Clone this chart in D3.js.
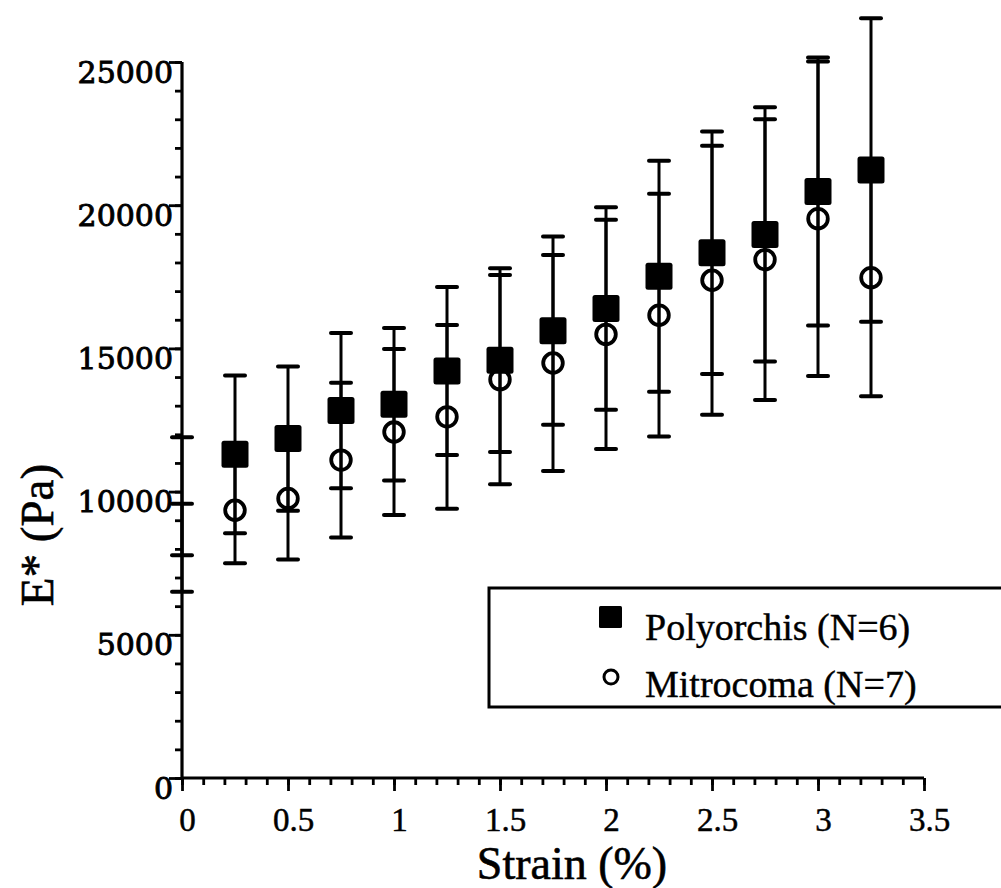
<!DOCTYPE html>
<html>
<head>
<meta charset="utf-8">
<script src="https://cdn.jsdelivr.net/npm/d3@7"></script>
<style>
  html, body { margin: 0; padding: 0; background: #fff; }
  svg { display: block; }
</style>
</head>
<body>
<svg id="chart" width="1001" height="888"></svg>
<script>
// Strain steps (%); the zero-strain entry is shown as error bars only
const strain = [0, 0.25, 0.5, 0.75, 1, 1.25, 1.5, 1.75, 2, 2.25, 2.5, 2.75, 3, 3.25];

// Polyorchis (N=6): mean E* and error (Pa)
const polyMean = [9840, 11300, 11850, 12830, 13050, 14210, 14590, 15620, 16390, 17520, 18340, 18980, 20480, 21230];
const polyErr  = [2060, 2750, 2520, 2710, 2660, 2930, 3210, 3290, 3535, 4030, 4230, 4440, 4680, 5300];

// Mitrocoma (N=7): mean E* and error (Pa)
const mitroMean = [8040, 9350, 9760, 11100, 12080, 12610, 13910, 14490, 15490, 16160, 17380, 18100, 19530, 17470];
const mitroErr  = [1540, 1850, 2130, 2700, 2900, 3210, 3650, 3770, 4000, 4240, 4700, 4900, 5490, 4140];

// Axis ticks
const xTicks = [0, 0.5, 1, 1.5, 2, 2.5, 3, 3.5];
const xTickLabels = ["0", "0.5", "1", "1.5", "2", "2.5", "3", "3.5"];
const yTicks = [0, 5000, 10000, 15000, 20000, 25000];
const yTickLabels = ["0", "5000", "10000", "15000", "20000", "25000"];

const seriesNames = ["Polyorchis (N=6)", "Mitrocoma (N=7)"];

const svg = d3.select("#chart");
const x = d3.scaleLinear().domain([0, 3.5]).range([182, 924]);
const y = d3.scaleLinear().domain([0, 25000]).range([778, 62]);

const ink = "#000";
const serif = "'Liberation Serif', 'Times New Roman', serif";

// ---- axes ----
const xMinor = d3.axisBottom(x).tickValues(d3.range(0, 3.5001, 0.1)).tickSize(7).tickFormat("");
const xMajor = d3.axisBottom(x).tickValues(xTicks).tickSize(13)
  .tickFormat((d, i) => xTickLabels[i]).tickPadding(14);
const yMinor = d3.axisLeft(y).tickValues(d3.range(0, 25001, 1000)).tickSize(7).tickFormat("");
const yMajor = d3.axisLeft(y).tickValues(yTicks).tickSize(13)
  .tickFormat((d, i) => yTickLabels[i]).tickPadding(0);

function styleAxis(g) {
  g.select(".domain").remove();
  g.selectAll(".tick line").attr("stroke", ink).attr("stroke-width", 2.8);
}

const gx = svg.append("g").attr("transform", `translate(0,${y(0)})`);
gx.append("g").call(xMinor).call(styleAxis);
const gxM = gx.append("g").call(xMajor).call(styleAxis);
gxM.selectAll(".tick text")
  .attr("font-family", serif)
  .attr("font-size", 33).attr("fill", ink)
  .attr("stroke", ink).attr("stroke-width", 0.5)
  .attr("dy", null).attr("y", 53).attr("dx", 5);

const gy = svg.append("g").attr("transform", `translate(${x(0)},0)`);
gy.append("g").call(yMinor).call(styleAxis);
const gyM = gy.append("g").call(yMajor).call(styleAxis);
gyM.selectAll(".tick text")
  .attr("font-family", "'DejaVu Serif', serif")
  .attr("font-size", 30).attr("fill", ink)
  .attr("stroke", ink).attr("stroke-width", 0.9)
  .attr("x", -9).attr("dy", null).attr("y", 20);

// axis lines
svg.append("line").attr("x1", x(0)).attr("x2", x(3.5)).attr("y1", y(0)).attr("y2", y(0))
  .attr("stroke", ink).attr("stroke-width", 3.2);
svg.append("line").attr("x1", x(0)).attr("x2", x(0)).attr("y1", y(0)).attr("y2", y(25000))
  .attr("stroke", ink).attr("stroke-width", 3.2);

// axis titles
svg.append("text")
  .attr("x", 572).attr("y", 879)
  .attr("text-anchor", "middle")
  .attr("font-family", serif)
  .attr("font-size", 46).attr("fill", ink)
  .attr("stroke", ink).attr("stroke-width", 0.6)
  .text("Strain (%)");

svg.append("text")
  .attr("transform", "translate(53,535) rotate(-90)")
  .attr("text-anchor", "middle")
  .attr("font-family", serif)
  .attr("font-size", 47).attr("fill", ink)
  .attr("stroke", ink).attr("stroke-width", 0.6)
  .text("E* (Pa)");

// ---- error bars ----
const capHalf = 10;
function errorBars(means, errs) {
  const g = svg.append("g");
  strain.forEach((s, i) => {
    const cx = x(s), top = y(means[i] + errs[i]), bot = y(means[i] - errs[i]);
    g.append("line").attr("x1", cx).attr("x2", cx).attr("y1", top).attr("y2", bot)
      .attr("stroke", ink).attr("stroke-width", 3);
    [top, bot].forEach(cy => {
      g.append("line").attr("x1", cx - capHalf).attr("x2", cx + capHalf)
        .attr("y1", cy).attr("y2", cy)
        .attr("stroke", ink).attr("stroke-width", 4).attr("stroke-linecap", "round");
    });
  });
}
errorBars(polyMean, polyErr);
errorBars(mitroMean, mitroErr);

// ---- markers (strain > 0) ----
const idx = strain.map((s, i) => i).filter(i => strain[i] > 0);
const sq = 27;
svg.append("g").selectAll("rect").data(idx).join("rect")
  .attr("x", i => x(strain[i]) - sq / 2)
  .attr("y", i => y(polyMean[i]) - sq / 2)
  .attr("width", sq).attr("height", sq).attr("rx", 2.5)
  .attr("fill", ink);

svg.append("g").selectAll("circle").data(idx).join("circle")
  .attr("cx", i => x(strain[i]))
  .attr("cy", i => y(mitroMean[i]))
  .attr("r", 9.8)
  .attr("fill", "none").attr("stroke", ink).attr("stroke-width", 3.8);

// ---- legend ----
const lg = svg.append("g");
lg.append("rect").attr("x", 489).attr("y", 588).attr("width", 560).attr("height", 119)
  .attr("fill", "#fff").attr("stroke", ink).attr("stroke-width", 3);
lg.append("rect").attr("x", 599).attr("y", 606).attr("width", 23).attr("height", 22).attr("rx", 1.5)
  .attr("fill", ink);
lg.append("circle").attr("cx", 611).attr("cy", 677).attr("r", 7)
  .attr("fill", "none").attr("stroke", ink).attr("stroke-width", 3);
lg.selectAll("text.lbl").data(seriesNames).join("text")
  .attr("class", "lbl")
  .attr("x", 645).attr("y", (d, i) => 640 + i * 57)
  .attr("font-family", serif)
  .attr("font-size", 38).attr("fill", ink)
  .attr("stroke", ink).attr("stroke-width", 0.4)
  .text(d => d);
</script>
</body>
</html>
